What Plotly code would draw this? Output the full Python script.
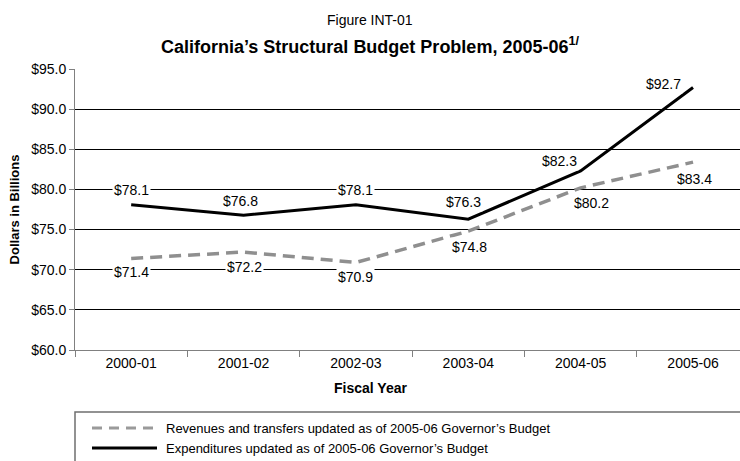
import plotly.graph_objects as go

# Fiscal years and budget totals (billions of dollars)
years = ["2000-01", "2001-02", "2002-03", "2003-04", "2004-05", "2005-06"]
revenues = [71.4, 72.2, 70.9, 74.8, 80.2, 83.4]
expenditures = [78.1, 76.8, 78.1, 76.3, 82.3, 92.7]

rev_name = "Revenues and transfers updated as of 2005-06 Governor\u2019s Budget"
exp_name = "Expenditures updated as of 2005-06 Governor\u2019s Budget"

y_ticks = [60, 65, 70, 75, 80, 85, 90, 95]

# label offsets (px) for the value labels of each series
exp_shift = [(0, 15), (-3, 14), (0, 15), (-5, 17), (-21, 10), (-30, 3)]
rev_shift = [(0, -14), (1, -15), (0, -15), (1, -16), (11, -15), (1, -17)]

FONT = "Liberation Sans, Arial, sans-serif"
W, H = 740, 461
ML, MR, MT, MB = 75, 0, 69, 111
PW, PH = W - ML - MR, H - MT - MB


def px(x):
    return (x - ML) / PW


def py(y):
    return (H - MB - y) / PH


fig = go.Figure()
fig.add_trace(go.Scatter(
    x=years, y=revenues, mode="lines", name=rev_name,
    line=dict(color="#8f8f8f", width=3.5, dash="12px,7px"),
    showlegend=False, hoverinfo="x+y",
))
fig.add_trace(go.Scatter(
    x=years, y=expenditures, mode="lines", name=exp_name,
    line=dict(color="#000000", width=3),
    showlegend=False, hoverinfo="x+y",
))

annotations = []
for yr, v, (dx, dy) in zip(years, expenditures, exp_shift):
    annotations.append(dict(
        x=yr, y=v, xref="x", yref="y", text=f"${v:.1f}", showarrow=False,
        xshift=dx, yshift=dy, bgcolor="white", borderpad=1,
        font=dict(family=FONT, size=14, color="#000"),
    ))
for yr, v, (dx, dy) in zip(years, revenues, rev_shift):
    annotations.append(dict(
        x=yr, y=v, xref="x", yref="y", text=f"${v:.1f}", showarrow=False,
        xshift=dx, yshift=dy, bgcolor="white", borderpad=1,
        font=dict(family=FONT, size=14, color="#000"),
    ))

# headings
annotations.append(dict(
    x=px(370), y=py(20), xref="paper", yref="paper", text="Figure INT-01",
    showarrow=False, xanchor="center", yanchor="middle",
    font=dict(family=FONT, size=14, color="#000"),
))
annotations.append(dict(
    x=px(370), y=py(45), xref="paper", yref="paper",
    text="<b>California\u2019s Structural Budget Problem, 2005-06<sup>1/</sup></b>",
    showarrow=False, xanchor="center", yanchor="middle",
    font=dict(family=FONT, size=18, color="#000"),
))
annotations.append(dict(
    x=px(370), y=py(388), xref="paper", yref="paper", text="<b>Fiscal Year</b>",
    showarrow=False, xanchor="center", yanchor="middle",
    font=dict(family=FONT, size=14, color="#000"),
))

# legend box and entries
shapes = [dict(
    type="rect", xref="paper", yref="paper",
    x0=px(75), x1=px(760), y0=py(412), y1=py(480),
    line=dict(color="#6f6f6f", width=1.5), fillcolor="rgba(0,0,0,0)",
)]
legend_rows = [
    (rev_name, 428, "#9a9a9a", "10px,7px"),
    (exp_name, 448, "#000000", "solid"),
]
for text, yy, col, dash in legend_rows:
    shapes.append(dict(
        type="line", xref="paper", yref="paper",
        x0=px(92), x1=px(157), y0=py(yy), y1=py(yy),
        line=dict(color=col, width=3, dash=dash),
    ))
    annotations.append(dict(
        x=px(164), y=py(yy), xref="paper", yref="paper", text=text,
        showarrow=False, xanchor="left", yanchor="middle",
        font=dict(family=FONT, size=13, color="#000"),
    ))

fig.update_layout(
    width=W, height=H,
    margin=dict(l=ML, r=MR, t=MT, b=MB),
    paper_bgcolor="white", plot_bgcolor="white",
    font=dict(family=FONT, size=13, color="#000"),
    annotations=annotations, shapes=shapes,
    showlegend=False,
)
fig.update_xaxes(
    type="category", categoryorder="array", categoryarray=years,
    range=[-0.5, 5.418],
    showline=True, linecolor="#808080", linewidth=1,
    ticks="outside", tickson="boundaries", ticklen=6, tickcolor="#808080",
    showgrid=False, zeroline=False,
    tickfont=dict(family=FONT, size=14, color="#000"),
)
fig.update_yaxes(
    range=[60, 95], tickvals=y_ticks,
    ticktext=[f"${t:.1f}" for t in y_ticks],
    showline=True, linecolor="#808080", linewidth=1,
    ticks="outside", ticklen=5, tickcolor="#808080",
    showgrid=True, gridcolor="#000000", gridwidth=1, zeroline=False,
    tickfont=dict(family=FONT, size=14, color="#000"),
    title=dict(text="<b>Dollars in Billions</b>", standoff=8,
               font=dict(family=FONT, size=13, color="#000")),
)

fig.write_html("out.html")
